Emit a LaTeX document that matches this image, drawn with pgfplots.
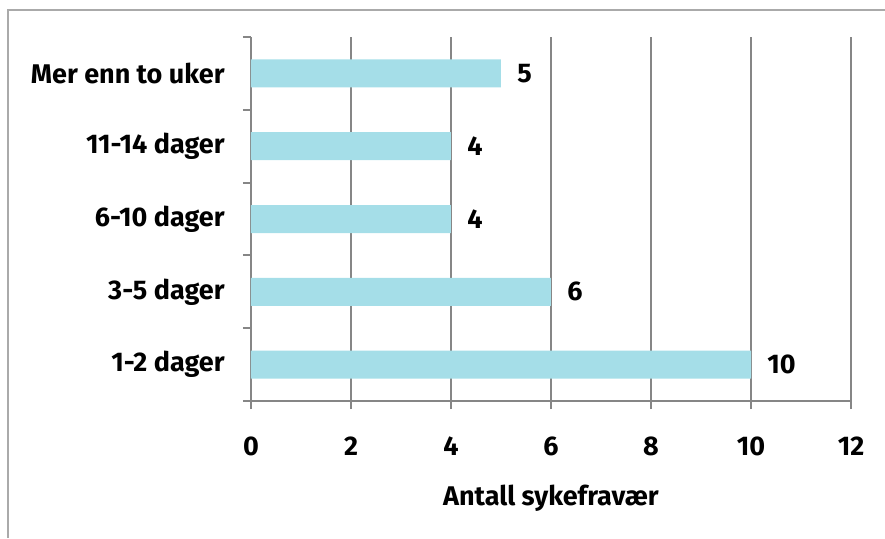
\documentclass[border=0pt]{standalone}
\usepackage{fontspec}
\setmainfont{Fira Sans}
\usepackage{pgfplots}
\pgfplotsset{compat=1.18}
\definecolor{barcol}{RGB}{165,222,232}
\definecolor{gridcol}{RGB}{134,134,134}
\begin{document}
\begin{tikzpicture}[x=1pt,y=1pt]
\useasboundingbox (0,0) rectangle (442.5,269);
\draw[gridcol!70, line width=1pt] (4,0) -- (4,264) -- (442.5,264);
\begin{axis}[
    at={(125.5pt,68.5pt)}, anchor=south west,
    scale only axis, width=300pt, height=182pt,
    xbar, bar width=14pt,
    xmin=0, xmax=12, ymin=-0.5, ymax=4.5,
    xtick={0,2,...,12},
    ytick={-0.5,0.5,...,4.5}, yticklabels={},
    extra y ticks={0,1,2,3,4},
    extra y tick labels={1-2 dager,3-5 dager,6-10 dager,11-14 dager,Mer enn to uker},
    extra y tick style={major tick length=0pt, grid=none},
    axis x line*=bottom, axis y line*=left,
    axis line style={gridcol, line width=1pt, -},
    tick align=outside, major tick length=4pt,
    every tick/.style={gridcol, line width=1pt},
    xmajorgrids, grid style={gridcol, line width=1pt},
    /pgf/number format/assume math mode=true,
    tick label style={font=\fontsize{13.5}{16}\bfseries},
    yticklabel style={inner sep=0pt, anchor=east, xshift=-13pt},
    xticklabel style={inner sep=0pt, anchor=base, yshift=-23pt},
    xlabel={Antall sykefravær},
    xlabel style={font=\fontsize{13.5}{16}\bfseries, inner sep=0pt, at={(axis description cs:0.5,0)}, anchor=base, yshift=-52pt},
    nodes near coords,
    nodes near coords style={font=\fontsize{13.5}{16}\bfseries, anchor=west, inner sep=0pt, xshift=8pt},
]
\addplot[fill=barcol, draw=none] coordinates {
    (10,0) (6,1) (4,2) (4,3) (5,4)
};
\end{axis}
\end{tikzpicture}
\end{document}
